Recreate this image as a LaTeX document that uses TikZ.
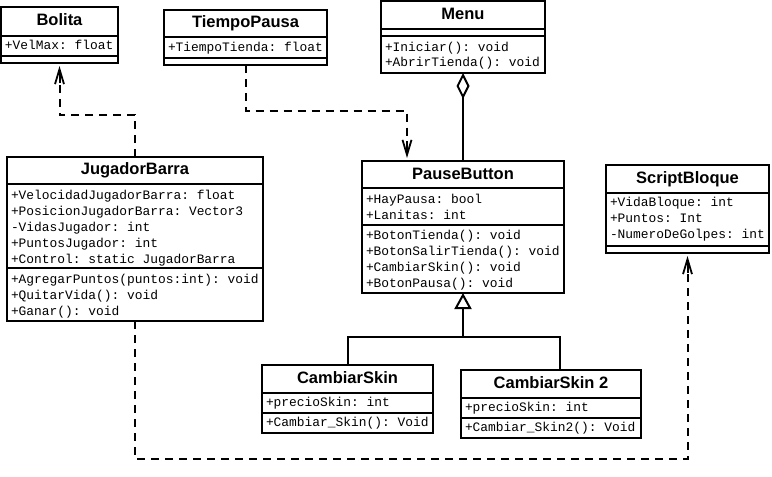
\documentclass[tikz,border=0pt]{standalone}
\usepackage{fontspec}
\usepackage{tikz}
\usetikzlibrary{arrows.meta}
\setmonofont{Liberation Mono}
\newfontfamily\titlefont{Liberation Sans}

\begin{document}
\begin{tikzpicture}[x=1pt, y=-1pt, line width=2pt,
  classbox/.style={draw, anchor=north west, inner sep=0pt, outer sep=0pt},
  classname/.style={font=\titlefont\bfseries\fontsize{16.5}{18}\selectfont, inner sep=0pt, text height=12pt, text depth=3.5pt},
  member/.style={font=\ttfamily\fontsize{12.9}{16}\selectfont, anchor=west, inner sep=0pt, text height=9pt, text depth=3pt},
  depend/.style={dash pattern=on 8pt off 6pt, shorten >=6pt},
  barb/.style={shorten >=3pt, -{Straight Barb[length=15pt, width=9pt, line width=0pt 0.9]}},
  inherit/.style={-{Triangle[open, length=16pt, width=17pt]}},
  aggregate/.style={{Diamond[open, length=26pt, width=13pt]}-}]
\useasboundingbox (0,0) rectangle (772,477);

% Bolita
\node[classbox, minimum width=117pt, minimum height=56pt] (bolita) at (1,7) {};
\draw (1,36) -- (118,36) (1,56) -- (118,56);
\node[classname] (bolitaname) at (59.5,21.5) {Bolita};
\node[member] (bolitavel) at (4,46) {+VelMax: float};

% TiempoPausa
\node[classbox, minimum width=163pt, minimum height=55pt] (tiempo) at (164,10) {};
\draw (164,37) -- (327,37) (164,58) -- (327,58);
\node[classname] (tiemponame) at (245.5,23.5) {TiempoPausa};
\node[member] (tiempoattr) at (167,48) {+TiempoTienda: float};

% Menu
\node[classbox, minimum width=164pt, minimum height=72pt] (menu) at (381,1) {};
\draw (381,29) -- (545,29) (381,36) -- (545,36);
\node[classname] (menuname) at (463,15) {Menu};
\node[member] (menuinit) at (384,48) {+Iniciar(): void};
\node[member] (menutienda) at (384,63) {+AbrirTienda(): void};

% JugadorBarra
\node[classbox, minimum width=256pt, minimum height=164pt] (jugador) at (7,157) {};
\draw (7,184) -- (263,184) (7,268) -- (263,268);
\node[classname] (jugadorname) at (135,170.5) {JugadorBarra};
\foreach \txt [count=\i] in {+VelocidadJugadorBarra: float, +PosicionJugadorBarra: Vector3,
    -VidasJugador: int, +PuntosJugador: int, +Control: static JugadorBarra}
  \node[member] (jugadorattr\i) at (10,180+16*\i) {\txt};
\foreach \txt [count=\i] in {+AgregarPuntos(puntos:int): void, +QuitarVida(): void, +Ganar(): void}
  \node[member] (jugadorop\i) at (10,264+16*\i) {\txt};

% PauseButton
\node[classbox, minimum width=202pt, minimum height=132pt] (pause) at (362,161) {};
\draw (362,188) -- (564,188) (362,225) -- (564,225);
\node[classname] (pausename) at (463,175) {PauseButton};
\foreach \txt [count=\i] in {+HayPausa: bool, +Lanitas: int}
  \node[member] (pauseattr\i) at (365,184+16*\i) {\txt};
\foreach \txt [count=\i] in {+BotonTienda(): void, +BotonSalirTienda(): void,
    +CambiarSkin(): void, +BotonPausa(): void}
  \node[member] (pauseop\i) at (365,220+16*\i) {\txt};

% ScriptBloque
\node[classbox, minimum width=163pt, minimum height=88pt] (bloque) at (606,165) {};
\draw (606,193) -- (769,193) (606,246) -- (769,246);
\node[classname] (bloquename) at (687.5,179) {ScriptBloque};
\foreach \txt [count=\i] in {+VidaBloque: int, +Puntos: Int, -NumeroDeGolpes: int}
  \node[member] (bloqueattr\i) at (609,187+16*\i) {\txt};

% CambiarSkin
\node[classbox, minimum width=171pt, minimum height=68pt] (skin) at (262,365) {};
\draw (262,393) -- (433,393) (262,413) -- (433,413);
\node[classname] (skinname) at (347.5,379) {CambiarSkin};
\node[member] (skinattr) at (265,403.5) {+precioSkin: int};
\node[member] (skinop) at (265,423.5) {+Cambiar\_Skin(): Void};

% CambiarSkin 2
\node[classbox, minimum width=180pt, minimum height=68pt] (skintwo) at (461,370) {};
\draw (461,398) -- (641,398) (461,418) -- (641,418);
\node[classname] (skintwoname) at (551,384) {CambiarSkin 2};
\node[member] (skintwoattr) at (464,408) {+precioSkin: int};
\node[member] (skintwoop) at (464,428) {+Cambiar\_Skin2(): Void};

% Relations
\coordinate (join) at (463,337);
\draw[depend] (jugador.north) -- ++(0,-42) -| (bolita.south);
\draw[barb] ([yshift=-20pt]bolita.south) -- (bolita.south);
\draw[depend] (tiempo.south) -- ++(0,46) -| ([xshift=-56pt]pause.north);
\draw[barb] ([xshift=-56pt, yshift=20pt]pause.north) -- ([xshift=-56pt]pause.north);
\draw[aggregate] (menu.south) -- (pause.north);
\draw (skin.north) |- (join);
\draw ([xshift=9pt]skintwo.north) |- (join);
\draw[inherit] (join) -- (pause.south);
\draw[depend] (jugador.south) -- ++(0,138) -| (bloque.south);
\draw[barb] ([yshift=-20pt]bloque.south) -- (bloque.south);
\end{tikzpicture}
\end{document}
